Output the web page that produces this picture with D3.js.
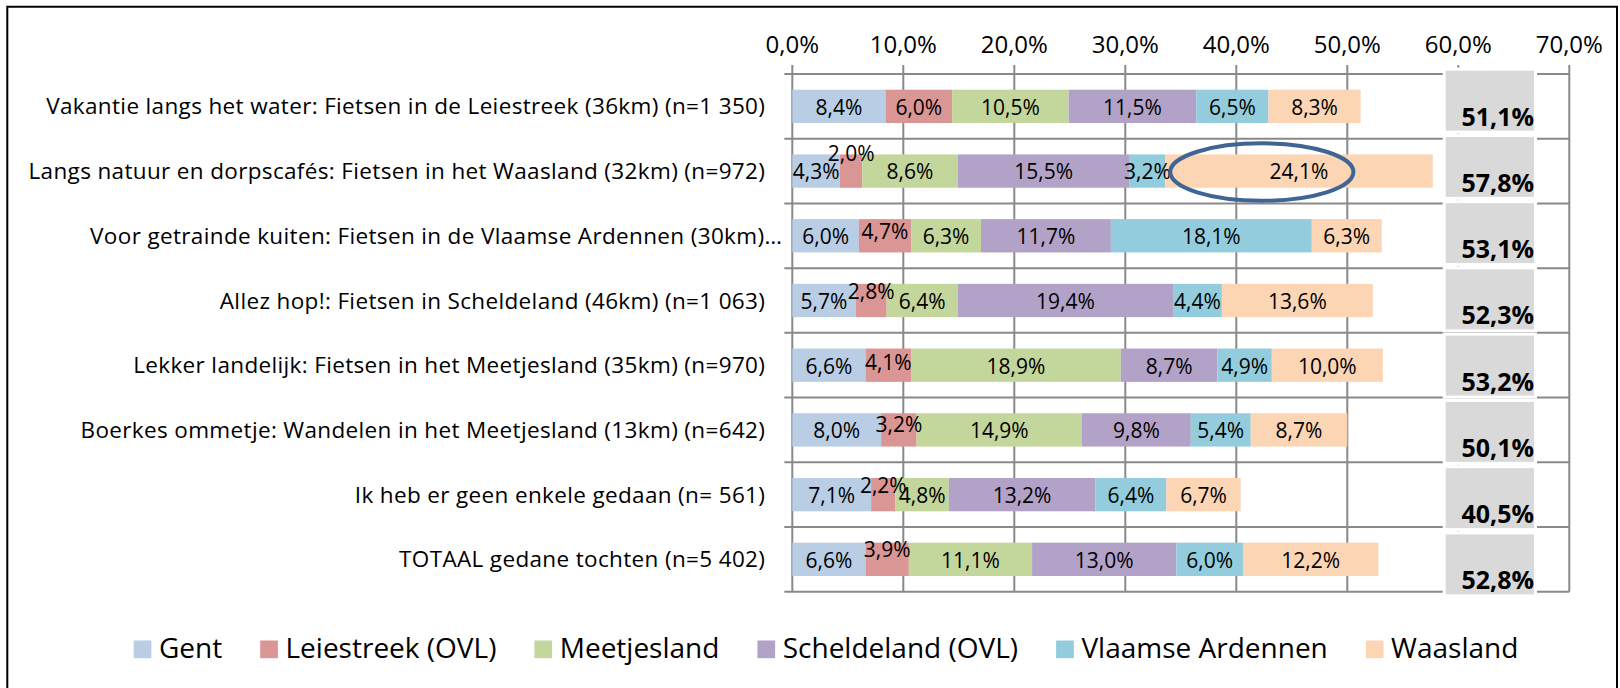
<!DOCTYPE html>
<html>
<head>
<meta charset="utf-8">
<script src="https://cdn.jsdelivr.net/npm/d3@7"></script>
<style>
  html, body { margin: 0; padding: 0; background: #fff; }
  svg { display: block; font-family: "Open Sans", sans-serif; }
</style>
</head>
<body>
<svg id="chart" width="1620" height="688"></svg>
<script>
// Categories (routes)
const categories = [
    'Vakantie langs het water: Fietsen in de Leiestreek (36km) (n=1 350)',
    'Langs natuur en dorpscafés: Fietsen in het Waasland (32km) (n=972)',
    'Voor getrainde kuiten: Fietsen in de Vlaamse Ardennen (30km)…',
    'Allez hop!: Fietsen in Scheldeland (46km) (n=1 063)',
    'Lekker landelijk: Fietsen in het Meetjesland (35km) (n=970)',
    'Boerkes ommetje: Wandelen in het Meetjesland (13km) (n=642)',
    'Ik heb er geen enkele gedaan (n= 561)',
    'TOTAAL gedane tochten (n=5 402)'
];

// Series (regions)
const seriesNames = ['Gent', 'Leiestreek (OVL)', 'Meetjesland', 'Scheldeland (OVL)', 'Vlaamse Ardennen', 'Waasland'];
const seriesColors = ['#B9CDE5', '#D99694', '#C3D69B', '#B3A2C7', '#93CDDD', '#FCD5B5'];

const gent        = [8.4, 4.3, 6.0, 5.7, 6.6, 8.0, 7.1, 6.6];
const leiestreek  = [6.0, 2.0, 4.7, 2.8, 4.1, 3.2, 2.2, 3.9];
const meetjesland = [10.5, 8.6, 6.3, 6.4, 18.9, 14.9, 4.8, 11.1];
const scheldeland = [11.5, 15.5, 11.7, 19.4, 8.7, 9.8, 13.2, 13.0];
const vlaamseArd  = [6.5, 3.2, 18.1, 4.4, 4.9, 5.4, 6.4, 6.0];
const waasland    = [8.3, 24.1, 6.3, 13.6, 10.0, 8.7, 6.7, 12.2];

const totals = [51.1, 57.8, 53.1, 52.3, 53.2, 50.1, 40.5, 52.8];

// Manually moved labels of the Leiestreek series (vertical shift in px)
const leieLabelShift = [0, -18, -5, -10, -4, -6, -10, -11];

// Axis ticks
const tickValues = [0, 10, 20, 30, 40, 50, 60, 70];

// Highlight ellipse around Waasland value of row 2 (in axis units)
const highlight = { row: 1, center: 42.3, halfWidth: 8.25 };

const fmt = v => d3.format('.1f')(v).replace('.', ',') + '%';

const svg = d3.select('#chart');
const plot = { left: 792.3, right: 1569.3, top: 74, bottom: 591.7 };

// Outer frame
svg.append('path')
    .attr('d', 'M7.3,688 V6.7 H1617 V688')
    .attr('fill', 'none')
    .attr('stroke', '#000')
    .attr('stroke-width', 2);

const x = d3.scaleLinear().domain([0, 70]).range([plot.left, plot.right]);
const y = d3.scaleBand()
    .domain(d3.range(categories.length))
    .range([plot.top, plot.bottom])
    .paddingInner(0.485)
    .paddingOuter(0.2425);
const step = y.step();

// Gridlines (vertical) with small ticks above the plot
const grid = svg.append('g').attr('class', 'grid');
grid.selectAll('line.v')
    .data(tickValues)
    .enter()
    .append('line')
    .attr('class', 'v')
    .attr('x1', d => x(d))
    .attr('x2', d => x(d))
    .attr('y1', plot.top - 9)
    .attr('y2', plot.bottom)
    .attr('stroke', '#898989')
    .attr('stroke-width', 2);

// Horizontal row separators with ticks left of the axis
grid.selectAll('line.h')
    .data(d3.range(categories.length + 1))
    .enter()
    .append('line')
    .attr('class', 'h')
    .attr('x1', plot.left - 8)
    .attr('x2', plot.right)
    .attr('y1', d => plot.top + d * step)
    .attr('y2', d => plot.top + d * step)
    .attr('stroke', '#898989')
    .attr('stroke-width', 2);

// Top axis labels
svg.append('g')
    .selectAll('text')
    .data(tickValues)
    .enter()
    .append('text')
    .attr('x', d => x(d))
    .attr('y', 53)
    .attr('text-anchor', 'middle')
    .attr('font-size', 24)
    .attr('fill', '#000')
    .text(d => fmt(d));

// Category labels
svg.append('g')
    .selectAll('text')
    .data(categories)
    .enter()
    .append('text')
    .attr('x', d => d.endsWith('…') ? plot.left - 10 : plot.left - 27)
    .attr('y', (d, i) => y(i) + y.bandwidth() / 2)
    .attr('dy', '0.36em')
    .attr('text-anchor', 'end')
    .attr('font-size', 22.5)
    .attr('letter-spacing', 0.35)
    .attr('fill', '#000')
    .text(d => d);

// Stack the series
const seriesValues = [gent, leiestreek, meetjesland, scheldeland, vlaamseArd, waasland];
const rows = categories.map((c, i) => {
    const row = { index: i };
    seriesValues.forEach((vals, s) => { row[s] = vals[i]; });
    return row;
});
const stacked = d3.stack().keys(d3.range(seriesValues.length))(rows);

const barsGroup = svg.append('g').attr('class', 'bars');
stacked.forEach((layer, s) => {
    barsGroup.selectAll(`rect.s${s}`)
        .data(layer)
        .enter()
        .append('rect')
        .attr('class', `s${s}`)
        .attr('x', d => x(d[0]))
        .attr('y', d => y(d.data.index))
        .attr('width', d => x(d[1]) - x(d[0]))
        .attr('height', y.bandwidth())
        .attr('fill', seriesColors[s]);
});

// Data labels
const labelsGroup = svg.append('g').attr('class', 'labels');
stacked.forEach((layer, s) => {
    labelsGroup.selectAll(`text.s${s}`)
        .data(layer)
        .enter()
        .append('text')
        .attr('class', `s${s}`)
        .attr('x', d => x((d[0] + d[1]) / 2))
        .attr('y', d => y(d.data.index) + y.bandwidth() / 2 + (s === 1 ? leieLabelShift[d.data.index] : 0))
        .attr('dy', '0.4em')
        .attr('text-anchor', 'middle')
        .attr('font-size', 21)
        .attr('fill', '#000')
        .text(d => fmt(d.data[s]));
});

// Total column (grey boxes)
const yTot = d3.scaleBand()
    .domain(d3.range(categories.length))
    .range([67.5, 597.5])
    .paddingInner(0.05)
    .paddingOuter(0.025);
const totX0 = 1444.2, totX1 = 1535.5;
const totGroup = svg.append('g').attr('class', 'totals');
totGroup.selectAll('rect')
    .data(totals)
    .enter()
    .append('rect')
    .attr('x', totX0)
    .attr('y', (d, i) => yTot(i))
    .attr('width', totX1 - totX0)
    .attr('height', yTot.bandwidth())
    .attr('fill', '#D9D9D9')
    .attr('stroke', '#fff')
    .attr('stroke-width', 3);
totGroup.selectAll('text')
    .data(totals)
    .enter()
    .append('text')
    .attr('x', totX1 - 1.5)
    .attr('y', (d, i) => yTot(i) + yTot.bandwidth() - 6.5)
    .attr('text-anchor', 'end')
    .attr('font-size', 25)
    .attr('font-weight', 'bold')
    .attr('fill', '#000')
    .text(d => fmt(d));

// Highlight ellipse
svg.append('ellipse')
    .attr('cx', x(highlight.center))
    .attr('cy', y(highlight.row) + y.bandwidth() / 2 + 1)
    .attr('rx', x(highlight.center + highlight.halfWidth) - x(highlight.center))
    .attr('ry', 28.7)
    .attr('fill', 'none')
    .attr('stroke', '#3E6594')
    .attr('stroke-width', 4);

// Legend
const legend = svg.append('g').attr('class', 'legend');
const sw = 17.7, gapText = 7.6, gapItem = 38;
let cursor = 0;
seriesNames.forEach((name, i) => {
    const g = legend.append('g');
    g.append('rect')
        .attr('x', 0)
        .attr('y', -17.5)
        .attr('width', sw)
        .attr('height', sw)
        .attr('fill', seriesColors[i]);
    const t = g.append('text')
        .attr('x', sw + gapText)
        .attr('y', 0)
        .attr('font-size', 28)
        .attr('fill', '#000')
        .text(name);
    const w = sw + gapText + t.node().getComputedTextLength();
    g.attr('transform', `translate(${cursor},0)`);
    cursor += w + gapItem;
});
const legendWidth = cursor - gapItem;
legend.attr('transform', `translate(${826 - legendWidth / 2},658)`);
</script>
</body>
</html>
